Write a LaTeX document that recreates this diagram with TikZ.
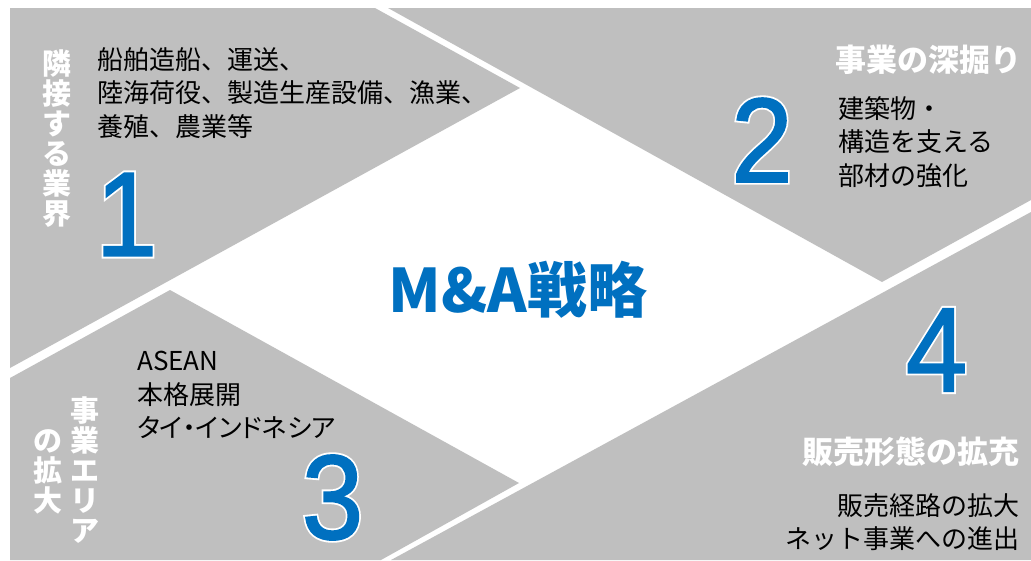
\documentclass[tikz,border=0pt]{standalone}
\usepackage{fontspec}
\newfontfamily\jpfont{Noto Sans CJK JP}
\newfontfamily\jpprop{Noto Sans CJK JP}[RawFeature=+palt]
\newfontfamily\numfont{Liberation Sans}
\definecolor{zonegray}{RGB}{191,191,191}
\definecolor{mablue}{RGB}{0,112,192}
% stroked copy of a digit, drawn under the blue one
\newcommand{\outlined}[1]{\special{pdf:literal direct 1 Tr 5.5 w 1 1 1 RG}#1\special{pdf:literal direct 0 Tr 1 w}}
% blue digit, a little heavier
\newcommand{\heavier}[1]{\special{pdf:literal direct 2 Tr 1.8 w 0 0.439 0.753 RG}#1\special{pdf:literal direct 0 Tr 1 w}}

\begin{document}
\begin{tikzpicture}[x=1pt, y=-1pt,
    zone/.style={fill=zonegray, draw=none},
    num/.style={font=\numfont\fontsize{120}{120}\selectfont, text=mablue, inner sep=0pt, xscale=0.92},
    halo/.style={num, text=white},
    body/.style={font=\jpfont\fontsize{26}{33.5}\selectfont, text=black, inner sep=0pt, align=left},
    head/.style={font=\jpfont\bfseries\fontsize{31}{31}\selectfont, text=white, inner sep=0pt},
    vhead/.style={font=\jpfont\bfseries\fontsize{29}{30}\selectfont, text=white, inner sep=0pt, align=center},
    title/.style={font=\jpfont\bfseries\fontsize{60}{60}\selectfont, text=mablue, inner sep=0pt}]

    \useasboundingbox[fill=white] (0,0) rectangle (1031,560);

    % four gray zones around the white centre
    \fill[zone] (10,8) -- (375,8) -- (520,88) -- (10,368) -- cycle;
    \fill[zone] (388,8) -- (1031,8) -- (1031,200) -- (882,282) -- cycle;
    \fill[zone] (10,378) -- (170,290) -- (519,483) -- (381,560) -- (10,560) -- cycle;
    \fill[zone] (1031,212) -- (1031,560) -- (391,560) -- cycle;

    % zone 1
    \node[vhead] (headA) at (57,139) {隣\\接\\す\\る\\業\\界};
    \node[body, anchor=north west] (bodyA) at (97,47) {船舶造船、運送、\\陸海荷役、製造生産設備、漁業、\\養殖、農業等};
    \node[halo] (numAhalo) at (126.5,214.5) {\outlined{1}};
    \node[num] (numA) at (126.5,214.5) {\heavier{1}};

    % zone 2
    \node[head, anchor=west] (headB) at (835,60) {事業の深掘り};
    \node[body, anchor=north west] (bodyB) at (838,96) {建築物・\\構造を支える\\部材の強化};
    \node[halo] (numBhalo) at (762,140) {\outlined{2}};
    \node[num] (numB) at (762,140) {\heavier{2}};

    % zone 3
    \node[body, anchor=north west] (bodyC) at (137,351) {ASEAN\\本格展開\\{\jpprop タイ・インドネシア}};
    \node[vhead] (headC) at (85,470) {事\\業\\エ\\リ\\ア};
    \node[vhead] (headCC) at (48,472) {の\\拡\\大};
    \node[halo] (numChalo) at (332.5,497.5) {\outlined{3}};
    \node[num] (numC) at (332.5,497.5) {\heavier{3}};

    % zone 4
    \node[halo] (numDhalo) at (936.5,350) {\outlined{4}};
    \node[num] (numD) at (936.5,350) {\heavier{4}};
    \node[head, anchor=east] (headD) at (1020,452) {販売形態の拡充};
    \node[body, anchor=north east, align=right] (bodyD) at (1020,493) {販売経路の拡大\\ネット事業への進出};

    % centre
    \node[title] (strategy) at (518,290) {M\&A戦略};
\end{tikzpicture}
\end{document}
